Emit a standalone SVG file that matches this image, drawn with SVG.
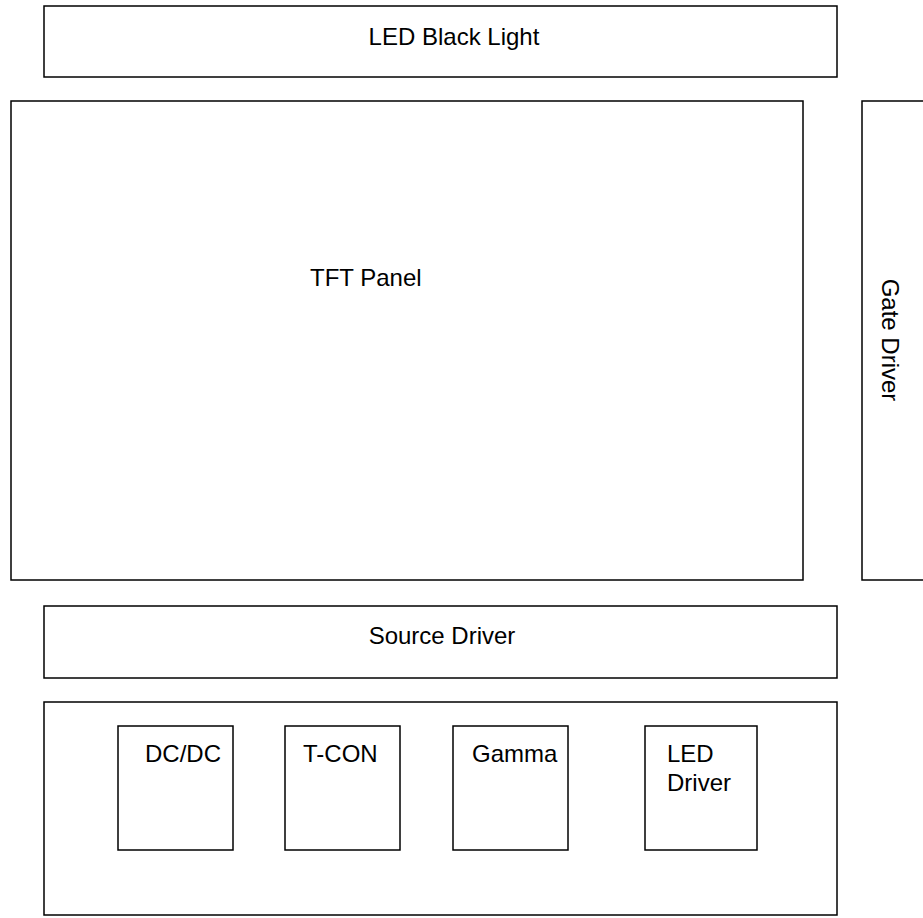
<svg xmlns="http://www.w3.org/2000/svg" width="923" height="918" viewBox="0 0 923 918">
<style>
.box{fill:#fff;stroke:#000;stroke-width:1.5}
.t{font-family:"Liberation Sans",Arial,sans-serif;font-size:24px;fill:#000}
</style>
<rect width="923" height="918" fill="#fff"/>
<g id="led-backlight"><rect class="box" x="44" y="6" width="793" height="71"/><text class="t" x="454" y="45" text-anchor="middle">LED Black Light</text></g>
<g id="tft-panel"><rect class="box" x="11" y="101" width="792" height="479"/><text class="t" x="310" y="286">TFT Panel</text></g>
<g id="gate-driver"><rect class="box" x="862" y="101" width="70" height="479"/><text class="t" transform="translate(882,340) rotate(90)" text-anchor="middle">Gate Driver</text></g>
<g id="source-driver"><rect class="box" x="44" y="606" width="793" height="72"/><text class="t" x="442" y="644" text-anchor="middle">Source Driver</text></g>
<g id="board"><rect class="box" x="44" y="702" width="793" height="213"/></g>
<g id="dcdc"><rect class="box" x="118" y="726" width="115" height="124"/><text class="t" x="145" y="762">DC/DC</text></g>
<g id="tcon"><rect class="box" x="285" y="726" width="115" height="124"/><text class="t" x="303" y="762">T-CON</text></g>
<g id="gamma"><rect class="box" x="453" y="726" width="115" height="124"/><text class="t" x="472" y="762">Gamma</text></g>
<g id="led-driver"><rect class="box" x="645" y="726" width="112" height="124"/><text class="t" x="667" y="762">LED</text><text class="t" x="667" y="791">Driver</text></g>
<g id="connectors"/>
</svg>
